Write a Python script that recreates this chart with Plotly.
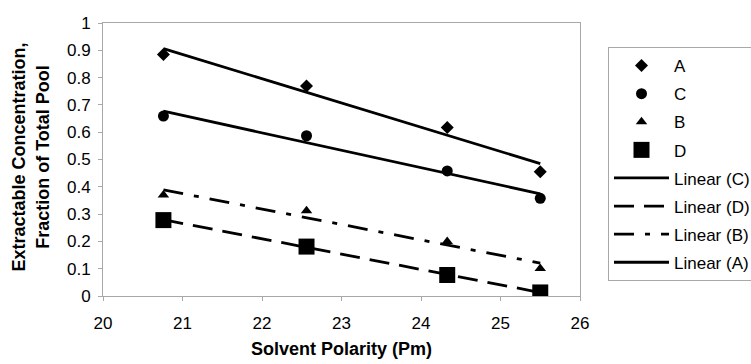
import numpy as np
import plotly.graph_objects as go

# Solvent polarity (Pm) of the four extraction solvents
polarity = [20.76, 22.56, 24.33, 25.50]

# Extractable concentration as a fraction of the total pool
series_names = ["A", "C", "B", "D"]
conc_a = [0.885, 0.769, 0.617, 0.455]
conc_c = [0.659, 0.587, 0.458, 0.358]
conc_b = [0.370, 0.312, 0.200, 0.101]
conc_d = [0.278, 0.181, 0.077, 0.013]

x_ticks = [20, 21, 22, 23, 24, 25, 26]
y_ticks = [0, 0.1, 0.2, 0.3, 0.4, 0.5, 0.6, 0.7, 0.8, 0.9, 1]

FONT = "Liberation Sans, Arial, sans-serif"
INK = "#000000"
FRAME = "#a8a8a8"

data = {"A": conc_a, "C": conc_c, "B": conc_b, "D": conc_d}
symbols = {"A": "diamond", "C": "circle", "B": "triangle-up", "D": "square"}
sizes = {"A": 10, "C": 11, "B": 10, "D": 16}

fig = go.Figure()

# scatter markers for each series
for i, name in enumerate(series_names):
    fig.add_trace(go.Scatter(
        x=polarity, y=data[name], mode="markers", name=name,
        legendgroup=f"g{i}",
        marker=dict(symbol=symbols[name], size=sizes[name], color=INK,
                    line=dict(width=0)),
    ))

# least-squares trendlines, listed in the legend order C, D, B, A
dashes = {"C": "solid", "D": "20px,10px", "B": "20px,11px,5px,11px", "A": "solid"}
xs = np.array(polarity)
for j, name in enumerate(["C", "D", "B", "A"]):
    slope, intercept = np.polyfit(xs, np.array(data[name]), 1)
    xe = np.array([xs.min(), xs.max()])
    fig.add_trace(go.Scatter(
        x=xe, y=slope * xe + intercept, mode="lines", name=f"Linear ({name})",
        legendgroup=f"h{j}",
        line=dict(color=INK, width=2.8, dash=dashes[name]),
    ))

fig.update_layout(
    width=751, height=364,
    margin=dict(l=103, r=171, t=23, b=68, autoexpand=False),
    paper_bgcolor="white", plot_bgcolor="white",
    font=dict(family=FONT, size=17, color=INK),
    showlegend=True,
    legend=dict(
        x=1.0587, y=0.912, xanchor="left", yanchor="top",
        xref="paper", yref="paper",
        traceorder="grouped", tracegroupgap=3,
        itemwidth=55,
        bordercolor=FRAME, borderwidth=1, bgcolor="white",
        font=dict(family=FONT, size=17, color=INK),
    ),
    xaxis=dict(
        range=[20, 26], tickvals=x_ticks, ticktext=[str(v) for v in x_ticks],
        showgrid=False, zeroline=False,
        showline=True, linecolor=FRAME, linewidth=1, mirror=True,
        ticks="outside", ticklen=4, tickcolor=FRAME,
        ticklabelstandoff=8,
        tickfont=dict(family=FONT, size=17, color=INK),
    ),
    yaxis=dict(
        range=[0, 1], tickvals=y_ticks, ticktext=[f"{v:g}" for v in y_ticks],
        showgrid=False, zeroline=False,
        showline=True, linecolor=FRAME, linewidth=1, mirror=True,
        ticks="outside", ticklen=4, tickcolor=FRAME,
        ticklabelstandoff=4,
        tickfont=dict(family=FONT, size=17, color=INK),
    ),
    annotations=[
        dict(text="<b>Solvent Polarity (Pm)</b>", xref="paper", yref="paper",
             x=0.5, y=-0.194, xanchor="center", yanchor="middle",
             showarrow=False, font=dict(family=FONT, size=18, color=INK)),
        dict(text="<b>Extractable Concentration,<br>Fraction of Total Pool</b>",
             xref="paper", yref="paper", x=-0.152, y=0.509,
             xanchor="center", yanchor="middle", textangle=-90,
             showarrow=False, font=dict(family=FONT, size=18, color=INK)),
    ],
)

fig.write_html("out.html")
